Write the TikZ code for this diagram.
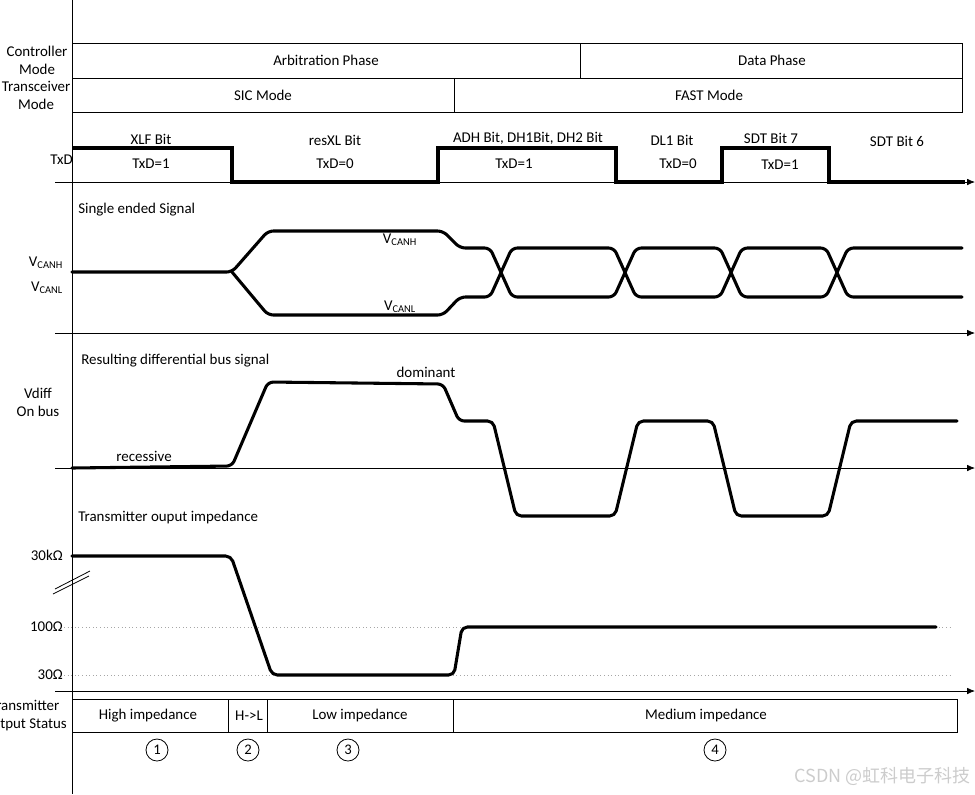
\documentclass[tikz,border=0pt]{standalone}
\usepackage{fontspec}
\setmainfont{Carlito}
\newfontfamily\cjk{Noto Sans CJK SC}
\usetikzlibrary{arrows.meta}
\begin{document}
\begin{tikzpicture}[x=0.75pt,y=-0.75pt,
  txt/.style={inner sep=0pt,font=\fontsize{11.2}{13.5}\selectfont},
  lbl/.style={txt,align=center},
  sig/.style={line width=2.3pt,line join=round,line cap=round},
  rsig/.style={sig,rounded corners=4pt},
  axis/.style={line width=0.6pt,-{Latex[length=6pt,width=5pt]}},
  boxline/.style={line width=0.7pt},
  guide/.style={gray!70,dotted,line width=0.7pt},
  num/.style={circle,draw,line width=0.6pt,minimum size=16.5pt,inner sep=0pt,font=\fontsize{11}{13}\selectfont}]
\useasboundingbox (0,0) rectangle (975,794);

% vertical axis
\draw[line width=0.6pt] (72,0) -- (72,794);

% mode rows
\draw[boxline] (72,43) rectangle (962,112);
\draw[boxline] (72,78) -- (962,78);
\draw[boxline] (580,43) -- (580,78);
\draw[boxline] (454,78) -- (454,112);
\node[txt] (arb) at (326,60) {Arbitration Phase};
\node[txt] (dat) at (772,60) {Data Phase};
\node[txt] (sic) at (263,95) {SIC Mode};
\node[txt] (fast) at (709,95) {FAST Mode};
\node[lbl] (cm) at (37,60) {Controller\\Mode};
\node[lbl] (tm) at (36,95) {Transceiver\\Mode};

% TxD
\draw[axis] (55,182) -- (975,182);
\node[txt,anchor=east] (txd) at (73,160) {TxD};
\draw[sig,line cap=butt,line join=miter] (72,148) -- (232,148) -- (232,182) -- (438,182) -- (438,148) -- (616,148) -- (616,182) -- (722,182) -- (722,148) -- (829,148) -- (829,182) -- (965,182);
\node[txt] (b1) at (151,139) {XLF Bit};
\node[txt] (t1) at (151,164) {TxD=1};
\node[txt] (b2) at (335,140) {resXL Bit};
\node[txt] (t2) at (335,164) {TxD=0};
\node[txt] (b3) at (528,138) {ADH Bit, DH1Bit, DH2 Bit};
\node[txt] (t3) at (514,164) {TxD=1};
\node[txt] (b4) at (672,140) {DL1 Bit};
\node[txt] (t4) at (678,164) {TxD=0};
\node[txt] (b5) at (771,138) {SDT Bit 7};
\node[txt] (t5) at (780,165) {TxD=1};
\node[txt] (b6) at (897,141) {SDT Bit 6};

% single ended signal
\draw[axis] (55,333) -- (975,333);
\node[txt,anchor=west] (se) at (78,210) {Single ended Signal};
\node[txt] (vh) at (46,263) {V\textsubscript{CANH}};
\node[txt] (vl) at (47,288) {V\textsubscript{CANL}};
\node[txt] (vh2) at (400,240) {V\textsubscript{CANH}};
\node[txt] (vl2) at (400,307) {V\textsubscript{CANL}};
\draw[rsig] (72,272) -- (232,272) -- (268,231) -- (443,231) -- (460,248) -- (490,248) -- (512,297) -- (614,297) -- (636,248) -- (720,248) -- (742,297) -- (826,297) -- (848,248) -- (962,248);
\draw[rsig] (232,272) -- (268,315) -- (443,315) -- (460,297) -- (490,297) -- (512,248) -- (614,248) -- (636,297) -- (720,297) -- (742,248) -- (826,248) -- (848,297) -- (962,297);

% differential signal
\draw[axis] (55,468) -- (975,468);
\node[txt,anchor=west] (rd) at (81,361) {Resulting differential bus signal};
\node[lbl] (vd) at (38,402) {Vdiff\\On bus};
\node[txt] (dom) at (426,372) {dominant};
\node[txt] (rec) at (144,456) {recessive};
\draw[rsig] (72,468) -- (232,466) -- (268,382) -- (443,384) -- (459,421) -- (493,421) -- (516,516) -- (615,516) -- (638,421) -- (713,421) -- (736,516) -- (828,516) -- (851,421) -- (957,421);

% impedance
\node[txt,anchor=west] (ti) at (78,518) {Transmitter ouput impedance};
\node[txt,anchor=east] (z1) at (63,555) {30kΩ};
\node[txt,anchor=east] (z2) at (63,627) {100Ω};
\node[txt,anchor=east] (z3) at (63,675) {30Ω};
\draw[guide] (64,627) -- (950,627);
\draw[guide] (64,675) -- (950,675);
\draw[line width=0.6pt] (53,594) -- (89,576);
\draw[line width=0.6pt] (55,589) -- (90,571);
\draw[rsig] (72,556) -- (231,556) -- (272,675) -- (454,675) -- (462,627) -- (936,627);

% status
\draw[axis] (55,691) -- (975,691);
\draw[boxline] (72,699) rectangle (957,732);
\draw[boxline] (228,699) -- (228,732);
\draw[boxline] (267,699) -- (267,732);
\draw[boxline] (453,699) -- (453,732);
\node[txt] (hi) at (148,716) {High impedance};
\node[txt] (hl) at (249,716) {H->L};
\node[txt] (lo) at (360,716) {Low impedance};
\node[txt] (me) at (706,716) {Medium impedance};
\node[lbl,anchor=east] (ts) at (67,716) {Transmitter\\Output Status};
\node[num] (n1) at (157,750) {1};
\node[num] (n2) at (248,750) {2};
\node[num] (n3) at (348,750) {3};
\node[num] (n4) at (715,750) {4};

% watermark
\node[inner sep=0pt,anchor=east,text=gray!40,font=\cjk\fontsize{13.5}{15}\selectfont] (wm) at (971,776) {CSDN @虹科电子科技};
\end{tikzpicture}
\end{document}
